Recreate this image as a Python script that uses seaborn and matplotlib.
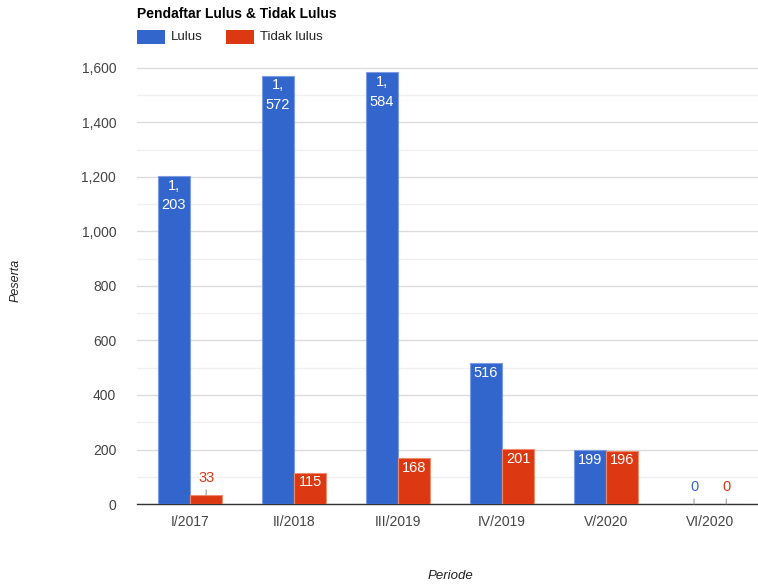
import matplotlib
matplotlib.use("Agg")
import matplotlib.pyplot as plt
from matplotlib.patches import Rectangle
from matplotlib.ticker import MultipleLocator, FuncFormatter
import pandas as pd
import seaborn as sns

# Data
periods = ["I/2017", "II/2018", "III/2019", "IV/2019", "V/2020", "VI/2020"]
lulus = [1203, 1572, 1584, 516, 199, 0]
tidak_lulus = [33, 115, 168, 201, 196, 0]
series_names = ["Lulus", "Tidak lulus"]
colors = ["#3366cc", "#dc3912"]
edge_colors = ["#7d9be0", "#ee8a70"]
title = "Pendaftar Lulus & Tidak Lulus"

df = pd.DataFrame({
    "Periode": periods * 2,
    "Peserta": lulus + tidak_lulus,
    "Status": [series_names[0]] * len(periods) + [series_names[1]] * len(periods),
})

sns.set_theme(style="white")
plt.rcParams["font.family"] = ["Liberation Sans", "DejaVu Sans"]

W, H = 758, 587
fig = plt.figure(figsize=(W / 100, H / 100), dpi=100)
fig.patch.set_facecolor("white")

# Plot area in pixels
left_px, base_px, right_px = 137, 504, 758
ymax = 1650
px_per_unit = (504 - 68) / 1600
ax = fig.add_axes([left_px / W, 1 - base_px / H,
                   (right_px - left_px) / W, ymax * px_per_unit / H])

sns.barplot(data=df, x="Periode", y="Peserta", hue="Status",
            palette=colors, width=0.62, gap=0, legend=False,
            saturation=1, ax=ax, zorder=3)

ax.set_xlim(-0.51, 5.46)
ax.set_ylim(0, ymax)

# Grid: major every 200, minor every 100
ax.yaxis.set_major_locator(MultipleLocator(200))
ax.yaxis.set_minor_locator(MultipleLocator(100))
ax.yaxis.set_major_formatter(FuncFormatter(lambda v, p: f"{int(v):,}"))
ax.grid(axis="y", which="major", color="#dcdcdc", linewidth=1, zorder=0)
ax.grid(axis="y", which="minor", color="#f0f0f0", linewidth=1, zorder=0)
ax.grid(axis="x", visible=False)
ax.set_axisbelow(True)

for s in ["top", "right", "left"]:
    ax.spines[s].set_visible(False)
ax.spines["bottom"].set_color("#333333")
ax.spines["bottom"].set_linewidth(1)
ax.spines["bottom"].set_zorder(2)

ax.tick_params(axis="both", which="both", length=0)
ax.tick_params(axis="y", labelsize=10, labelcolor="#444444", pad=15)
ax.tick_params(axis="x", labelsize=10, labelcolor="#444444", pad=8)
ax.set_xlabel("")
ax.set_ylabel("")

# Bar edges and value labels
values_by_series = [lulus, tidak_lulus]
for si, cont in enumerate(ax.containers):
    for bar, val in zip(cont.patches, values_by_series[si]):
        bar.set_edgecolor(edge_colors[si])
        bar.set_linewidth(0.8)
        bar.set_zorder(3)
        x = bar.get_x() + bar.get_width() / 2
        h = bar.get_height()
        text = f"{val:,}"
        if "," in text:
            text = text.replace(",", ",\n")
        if h * px_per_unit >= 20:
            ax.annotate(text, xy=(x, h), xytext=(0, -2),
                        textcoords="offset points", ha="center", va="top",
                        fontsize=10.5, color="white", linespacing=1.5,
                        zorder=5)
        else:
            ax.annotate(text, xy=(x, h), xytext=(0, 12.5),
                        textcoords="offset points", ha="center",
                        va="center", fontsize=10.5, color=colors[si],
                        arrowprops=dict(arrowstyle="-", color="#999999",
                                        lw=0.8, shrinkA=1.5, shrinkB=0),
                        zorder=5)

# Title and legend
fig.text(137 / W, 1 - 14 / H, title, fontsize=10, fontweight="bold",
         color="#000000", ha="left", va="center")
legend_x = [137, 226]
for i, name in enumerate(series_names):
    fig.patches.append(Rectangle((legend_x[i] / W, 1 - 44 / H), 28 / W, 14 / H,
                                 transform=fig.transFigure,
                                 facecolor=colors[i], edgecolor="none"))
    fig.text((legend_x[i] + 34) / W, 1 - 37 / H, name, fontsize=9.5,
             color="#222222", ha="left", va="center")

# Axis titles
fig.text(16 / W, 1 - 280 / H, "Peserta", fontsize=9, style="italic",
         color="#222222", rotation=90, ha="center", va="center")
fig.text(450 / W, 1 - 576 / H, "Periode", fontsize=9.5, style="italic",
         color="#222222", ha="center", va="center")

fig.savefig("out.png", dpi=100, facecolor="white")
